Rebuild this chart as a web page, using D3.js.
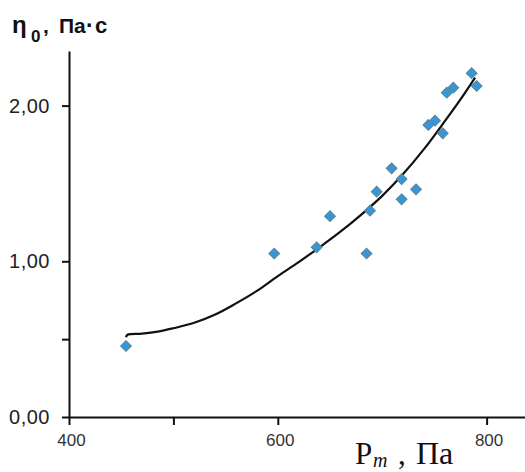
<!DOCTYPE html>
<html>
<head>
<meta charset="utf-8">
<script src="https://cdn.jsdelivr.net/npm/d3@7"></script>
<style>
  html, body { margin: 0; padding: 0; background: #fff; }
  svg { display: block; }
</style>
</head>
<body>
<svg id="chart" width="525" height="472"></svg>
<script>
// Measured pressure P_m (Pa) and zero-shear viscosity η0 (Pa·s)
const pressure = [454.6, 596.6, 637.2, 650, 685, 688.3, 694.7, 709, 718.6, 718.6,
                  732.4, 744.2, 750.6, 758, 761.8, 768.1, 785.7, 790.5];
const viscosity = [0.456, 1.05, 1.09, 1.29, 1.05, 1.325, 1.447, 1.597, 1.528, 1.398,
                   1.462, 1.876, 1.903, 1.822, 2.083, 2.115, 2.208, 2.126];

// Trend line through the measurements
const trendP = [454.6, 456, 470, 485, 500, 520, 540, 560, 580, 600, 620, 640,
                660, 680, 700, 720, 740, 760, 775, 789];
const trendEta = [0.512, 0.528, 0.535, 0.548, 0.570, 0.605, 0.658, 0.730, 0.810, 0.905,
                  0.995, 1.090, 1.190, 1.300, 1.420, 1.560, 1.720, 1.900, 2.040, 2.180];

// Axis ticks and which of them carry labels
const xTicks = [400, 500, 600, 800];
const xLabelled = [400, 600, 800];
const yTicks = [0, 0.5, 1, 2];
const yLabelled = [0, 1, 2];

const svg = d3.select("#chart");

const x = d3.scaleLinear().domain([400, 850]).range([69, 538.8]);
const y = d3.scaleLinear().domain([0, 2.35]).range([417, 51.1]);

const ru = d3.formatLocale({decimal: ",", thousands: " ", grouping: [3], currency: ["", ""]});
const fmtY = ru.format(".2f");

// Y axis
const yAxis = d3.axisLeft(y)
  .tickValues(yTicks)
  .tickSize(7)
  .tickSizeOuter(0)
  .tickPadding(12)
  .tickFormat(d => yLabelled.includes(d) ? fmtY(d) : "");
const gy = svg.append("g").attr("transform", "translate(69,0)").call(yAxis);
gy.selectAll("path, line").attr("stroke", "#111").attr("stroke-width", 2);
gy.selectAll("text")
  .attr("fill", "#222")
  .style("font-family", "'Liberation Sans', Arial, sans-serif")
  .style("font-size", "20px")
  .style("letter-spacing", "0.5px");

// X axis
const xAxis = d3.axisBottom(x)
  .tickValues(xTicks)
  .tickSize(8)
  .tickSizeOuter(0)
  .tickPadding(9)
  .tickFormat(d => xLabelled.includes(d) ? String(d) : "");
const gx = svg.append("g").attr("transform", "translate(0,417)").call(xAxis);
gx.selectAll("path, line").attr("stroke", "#111").attr("stroke-width", 2);
gx.selectAll("text")
  .attr("fill", "#333")
  .attr("dx", "2px")
  .style("font-family", "'Liberation Sans', Arial, sans-serif")
  .style("font-size", "17px");

// Trend curve
const trend = d3.zip(trendP, trendEta);
svg.append("path")
  .datum(trend)
  .attr("fill", "none")
  .attr("stroke", "#111")
  .attr("stroke-width", 2.2)
  .attr("d", d3.line().x(d => x(d[0])).y(d => y(d[1])).curve(d3.curveCatmullRom));

// Diamond markers
const points = d3.zip(pressure, viscosity);
const diamond = d3.symbol().type(d3.symbolSquare).size(58);
svg.append("g").selectAll("path")
  .data(points)
  .join("path")
  .attr("d", diamond)
  .attr("transform", d => `translate(${x(d[0])},${y(d[1])}) rotate(45)`)
  .attr("fill", "#3796d9")
  .attr("stroke", "#5a8595")
  .attr("stroke-width", 1);

// Y axis title: η0, Па·с
const yt = svg.append("g")
  .style("font-family", "'Liberation Sans', Arial, sans-serif")
  .style("font-weight", "bold")
  .attr("fill", "#111");
yt.append("text").attr("x", 12).attr("y", 33).style("font-size", "24px").text("η");
yt.append("text").attr("x", 31).attr("y", 42).style("font-size", "17px").text("0");
yt.append("text").attr("x", 43).attr("y", 33).style("font-size", "21px").text(",");
yt.append("text").attr("x", 59).attr("y", 33).style("font-size", "21px").text("Па");
yt.append("text").attr("x", 86).attr("y", 33).style("font-size", "23px").text("·");
yt.append("text").attr("x", 95).attr("y", 33).style("font-size", "22px").text("с");

// X axis title: Pm, Па
const xt = svg.append("g")
  .style("font-family", "'Liberation Serif', 'Times New Roman', serif")
  .attr("fill", "#111");
xt.append("text").attr("x", 355).attr("y", 464).style("font-size", "31px").text("P");
xt.append("text").attr("x", 373).attr("y", 467).style("font-size", "20px").style("font-style", "italic").text("m");
xt.append("text").attr("x", 398).attr("y", 464).style("font-size", "31px").text(",");
xt.append("text").attr("x", 416).attr("y", 464).style("font-size", "32px").text("Па");
</script>
</body>
</html>
